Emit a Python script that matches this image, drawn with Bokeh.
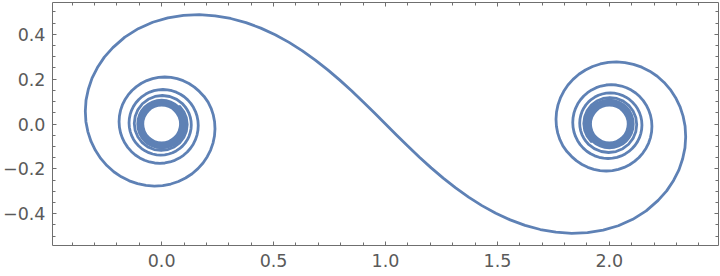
from bokeh.plotting import figure
from bokeh.models import Range1d, LinearAxis, FixedTicker, CustomJSTickFormatter
from bokeh.embed import file_html
from bokeh.resources import INLINE

# ---- curve points (left spiral: inner end -> outer loop) ----
left_spiral_x = [
    0.0811, 0.0990, 0.1103, 0.1142, 0.1103, 0.0988, 0.0803, 0.0562, 0.0279, -0.0026,
    -0.0333, -0.0620, -0.0869, -0.1060, -0.1182, -0.1223, -0.1181, -0.1058, -0.0860, -0.0600,
    -0.0296, 0.0032, 0.0363, 0.0673, 0.0941, 0.1053, 0.1148, 0.1224, 0.1279, 0.1313,
    0.1324, 0.1313, 0.1279, 0.1223, 0.1145, 0.1047, 0.0930, 0.0796, 0.0648, 0.0487,
    0.0317, 0.0139, -0.0042, -0.0223, -0.0403, -0.0576, -0.0742, -0.0896, -0.1035, -0.1158,
    -0.1262, -0.1346, -0.1406, -0.1443, -0.1456, -0.1443, -0.1406, -0.1344, -0.1258, -0.1150,
    -0.1020, -0.0873, -0.0708, -0.0530, -0.0341, -0.0144, 0.0057, 0.0259, 0.0458, 0.0652,
    0.0836, 0.1008, 0.1164, 0.1302, 0.1418, 0.1512, 0.1580, 0.1621, 0.1635, 0.1621,
    0.1579, 0.1509, 0.1412, 0.1289, 0.1143, 0.0975, 0.0789, 0.0586, 0.0371, 0.0146,
    -0.0083, -0.0315, -0.0543, -0.0766, -0.0978, -0.1176, -0.1356, -0.1515, -0.1650, -0.1758,
    -0.1837, -0.1886, -0.1902, -0.1886, -0.1837, -0.1755, -0.1641, -0.1496, -0.1324, -0.1125,
    -0.0903, -0.0662, -0.0405, -0.0137, 0.0139, 0.0417, 0.0693, 0.0963, 0.1220, 0.1462,
    0.1683, 0.1894, 0.2075, 0.2209, 0.2306, 0.2365, 0.2383, 0.2360, 0.2294, 0.2187,
    0.2037, 0.1849, 0.1622, 0.1361, 0.1068, 0.0749, 0.0407, 0.0047, -0.0324, -0.0701,
    -0.1077, -0.1447, -0.1802, -0.2139, -0.2447, -0.2724, -0.2960, -0.3154, -0.3294, -0.3384,
    -0.3410, -0.3378, -0.3275, -0.3109, -0.2869, -0.2560, -0.2180]
left_spiral_y = [
    0.0779, 0.0545, 0.0272, -0.0023, -0.0320, -0.0598, -0.0838, -0.1023, -0.1140, -0.1181,
    -0.1140, -0.1021, -0.0830, -0.0580, -0.0288, 0.0029, 0.0347, 0.0645, 0.0903, 0.1102,
    0.1228, 0.1271, 0.1227, 0.1099, 0.0893, 0.0765, 0.0623, 0.0469, 0.0306, 0.0137,
    -0.0036, -0.0210, -0.0381, -0.0547, -0.0705, -0.0852, -0.0985, -0.1102, -0.1201, -0.1281,
    -0.1338, -0.1374, -0.1386, -0.1374, -0.1338, -0.1279, -0.1197, -0.1095, -0.0972, -0.0832,
    -0.0676, -0.0507, -0.0328, -0.0142, 0.0048, 0.0239, 0.0428, 0.0611, 0.0785, 0.0947,
    0.1094, 0.1224, 0.1334, 0.1422, 0.1486, 0.1525, 0.1538, 0.1525, 0.1485, 0.1419,
    0.1328, 0.1214, 0.1077, 0.0920, 0.0745, 0.0556, 0.0355, 0.0146, -0.0068, -0.0283,
    -0.0496, -0.0702, -0.0899, -0.1082, -0.1249, -0.1397, -0.1521, -0.1621, -0.1694, -0.1739,
    -0.1754, -0.1739, -0.1694, -0.1618, -0.1514, -0.1382, -0.1224, -0.1042, -0.0840, -0.0621,
    -0.0388, -0.0144, 0.0106, 0.0357, 0.0606, 0.0849, 0.1080, 0.1297, 0.1494, 0.1669,
    0.1817, 0.1936, 0.2024, 0.2078, 0.2096, 0.2078, 0.2024, 0.1933, 0.1806, 0.1646,
    0.1453, 0.1230, 0.0976, 0.0701, 0.0407, 0.0100, -0.0215, -0.0535, -0.0852, -0.1162,
    -0.1458, -0.1737, -0.1990, -0.2217, -0.2409, -0.2564, -0.2677, -0.2746, -0.2767, -0.2741,
    -0.2662, -0.2535, -0.2356, -0.2129, -0.1853, -0.1535, -0.1175, -0.0778, -0.0351, 0.0104,
    0.0576, 0.1064, 0.1552, 0.2044, 0.2518, 0.2982, 0.3406]

# ---- the S-shaped middle section ----
s_curve_x = [
    -0.1645, -0.1046, -0.0400, 0.0278, 0.0976, 0.1682, 0.2387, 0.3084, 0.3766, 0.4429,
    0.5072, 0.5692, 0.6289, 0.6865, 0.7421, 0.7959, 0.8483, 0.8995, 0.9499, 1.0000,
    1.0501, 1.1005, 1.1517, 1.2041, 1.2579, 1.3135, 1.3711, 1.4308, 1.4928, 1.5571,
    1.6234, 1.6916, 1.7613, 1.8318, 1.9024, 1.9722, 2.0400, 2.1046, 2.1645]
s_curve_y = [
    0.3876, 0.4251, 0.4537, 0.4735, 0.4847, 0.4875, 0.4826, 0.4706, 0.4520, 0.4276,
    0.3981, 0.3641, 0.3263, 0.2853, 0.2416, 0.1957, 0.1482, 0.0995, 0.0499, 0.0000,
    -0.0499, -0.0995, -0.1482, -0.1957, -0.2416, -0.2853, -0.3263, -0.3641, -0.3981, -0.4276,
    -0.4520, -0.4706, -0.4826, -0.4875, -0.4847, -0.4735, -0.4537, -0.4251, -0.3876]

# ---- right spiral: outer loop -> inner end ----
right_spiral_x = [
    2.2180, 2.2560, 2.2869, 2.3109, 2.3275, 2.3378, 2.3410, 2.3384, 2.3294, 2.3154,
    2.2960, 2.2724, 2.2447, 2.2139, 2.1802, 2.1447, 2.1077, 2.0701, 2.0324, 1.9953,
    1.9593, 1.9251, 1.8932, 1.8639, 1.8378, 1.8151, 1.7963, 1.7813, 1.7706, 1.7640,
    1.7617, 1.7635, 1.7694, 1.7791, 1.7925, 1.8106, 1.8317, 1.8538, 1.8780, 1.9037,
    1.9307, 1.9583, 1.9861, 2.0137, 2.0405, 2.0662, 2.0903, 2.1125, 2.1324, 2.1496,
    2.1641, 2.1755, 2.1837, 2.1886, 2.1902, 2.1886, 2.1837, 2.1758, 2.1650, 2.1515,
    2.1356, 2.1176, 2.0978, 2.0766, 2.0543, 2.0315, 2.0083, 1.9854, 1.9629, 1.9414,
    1.9211, 1.9025, 1.8857, 1.8711, 1.8588, 1.8491, 1.8421, 1.8379, 1.8365, 1.8379,
    1.8420, 1.8488, 1.8582, 1.8698, 1.8836, 1.8992, 1.9164, 1.9348, 1.9542, 1.9741,
    1.9943, 2.0144, 2.0341, 2.0530, 2.0708, 2.0873, 2.1020, 2.1150, 2.1258, 2.1344,
    2.1406, 2.1443, 2.1456, 2.1443, 2.1406, 2.1346, 2.1262, 2.1158, 2.1035, 2.0896,
    2.0742, 2.0576, 2.0403, 2.0223, 2.0042, 1.9861, 1.9683, 1.9513, 1.9352, 1.9204,
    1.9070, 1.8953, 1.8855, 1.8777, 1.8721, 1.8687, 1.8676, 1.8687, 1.8721, 1.8776,
    1.8852, 1.8947, 1.9059, 1.9327, 1.9637, 1.9968, 2.0296, 2.0600, 2.0860, 2.1058,
    2.1181, 2.1223, 2.1182, 2.1060, 2.0869, 2.0620, 2.0333, 2.0026, 1.9721, 1.9438,
    1.9197, 1.9012, 1.8897, 1.8858, 1.8897, 1.9010, 1.9189]
right_spiral_y = [
    -0.3406, -0.2982, -0.2518, -0.2044, -0.1552, -0.1064, -0.0576, -0.0104, 0.0351, 0.0778,
    0.1175, 0.1535, 0.1853, 0.2129, 0.2356, 0.2535, 0.2662, 0.2741, 0.2767, 0.2746,
    0.2677, 0.2564, 0.2409, 0.2217, 0.1990, 0.1737, 0.1458, 0.1162, 0.0852, 0.0535,
    0.0215, -0.0100, -0.0407, -0.0701, -0.0976, -0.1230, -0.1453, -0.1646, -0.1806, -0.1933,
    -0.2024, -0.2078, -0.2096, -0.2078, -0.2024, -0.1936, -0.1817, -0.1669, -0.1494, -0.1297,
    -0.1080, -0.0849, -0.0606, -0.0357, -0.0106, 0.0144, 0.0388, 0.0621, 0.0840, 0.1042,
    0.1224, 0.1382, 0.1514, 0.1618, 0.1694, 0.1739, 0.1754, 0.1739, 0.1694, 0.1621,
    0.1521, 0.1397, 0.1249, 0.1082, 0.0899, 0.0702, 0.0496, 0.0283, 0.0068, -0.0146,
    -0.0355, -0.0556, -0.0745, -0.0920, -0.1077, -0.1214, -0.1328, -0.1419, -0.1485, -0.1525,
    -0.1538, -0.1525, -0.1486, -0.1422, -0.1334, -0.1224, -0.1094, -0.0947, -0.0785, -0.0611,
    -0.0428, -0.0239, -0.0048, 0.0142, 0.0328, 0.0507, 0.0676, 0.0832, 0.0972, 0.1095,
    0.1197, 0.1279, 0.1338, 0.1374, 0.1386, 0.1374, 0.1338, 0.1281, 0.1201, 0.1102,
    0.0985, 0.0852, 0.0705, 0.0547, 0.0381, 0.0210, 0.0036, -0.0137, -0.0306, -0.0469,
    -0.0623, -0.0765, -0.0893, -0.1099, -0.1227, -0.1271, -0.1228, -0.1102, -0.0903, -0.0645,
    -0.0347, -0.0029, 0.0288, 0.0580, 0.0830, 0.1021, 0.1140, 0.1181, 0.1140, 0.1023,
    0.0838, 0.0598, 0.0320, 0.0023, -0.0272, -0.0545, -0.0779]

# ---- densely wound cores (many windings merge into a solid band) ----
core_x = [0.0, 2.0]
core_y = [0.0, 0.0]
core_inner_r = [0.078, 0.078]
core_outer_r = [0.113, 0.113]

# ---- ticks ----
x_major = [0.0, 0.5, 1.0, 1.5, 2.0]
x_minor = [-0.4, -0.3, -0.2, -0.1, 0.1, 0.2, 0.3, 0.4, 0.6, 0.7, 0.8, 0.9, 1.1, 1.2, 1.3, 1.4,
           1.6, 1.7, 1.8, 1.9, 2.1, 2.2, 2.3, 2.4]
y_major = [-0.4, -0.2, 0.0, 0.2, 0.4]
y_minor = [-0.5, -0.45, -0.35, -0.3, -0.25, -0.15, -0.1, -0.05, 0.05, 0.1, 0.15, 0.25, 0.3, 0.35,
           0.45, 0.5]

CURVE = "#5E81B5"
FRAME = "#6f6f6f"
LABEL = "#5a5a5a"

p = figure(width=720, height=276, output_backend="svg", toolbar_location=None,
           x_range=Range1d(-0.4876, 2.4876), y_range=Range1d(-0.5419, 0.5419),
           min_border_left=52, min_border_right=2, min_border_top=2, min_border_bottom=31,
           x_axis_location=None, y_axis_location=None)
p.grid.visible = False
p.outline_line_color = None
p.background_fill_color = "white"
p.border_fill_color = "white"

fmt = CustomJSTickFormatter(code="return tick.toFixed(1).replace('-', '\\u2212');")
blank = CustomJSTickFormatter(code="return '';")


def make_axis(major, minor, labels):
    ax = LinearAxis(ticker=FixedTicker(ticks=major, minor_ticks=minor))
    ax.axis_line_color = FRAME
    ax.axis_line_width = 1
    ax.major_tick_line_color = FRAME
    ax.minor_tick_line_color = FRAME
    ax.major_tick_in = 4
    ax.major_tick_out = 0
    ax.minor_tick_in = 3
    ax.minor_tick_out = 0
    if labels:
        ax.formatter = fmt
        ax.major_label_text_font = "DejaVu Sans"
        ax.major_label_text_font_size = "17.5px"
        ax.major_label_text_color = LABEL
    else:
        ax.formatter = blank
        ax.major_label_text_font_size = "0px"
        ax.major_label_standoff = 0
    return ax


bottom = make_axis(x_major, x_minor, True)
bottom.major_label_standoff = 8
left = make_axis(y_major, y_minor, True)
left.major_label_standoff = 7
top = make_axis(x_major, x_minor, False)
right = make_axis(y_major, y_minor, False)
p.add_layout(bottom, "below")
p.add_layout(left, "left")
p.add_layout(top, "above")
p.add_layout(right, "right")

p.annulus(x=core_x, y=core_y, inner_radius=core_inner_r, outer_radius=core_outer_r,
          fill_color=CURVE, line_color=None)

xs = left_spiral_x + s_curve_x + right_spiral_x
ys = left_spiral_y + s_curve_y + right_spiral_y
p.line(xs, ys, line_color=CURVE, line_width=2.8, line_join="round", line_cap="round")

open("out.html", "w").write(file_html(p, INLINE))
